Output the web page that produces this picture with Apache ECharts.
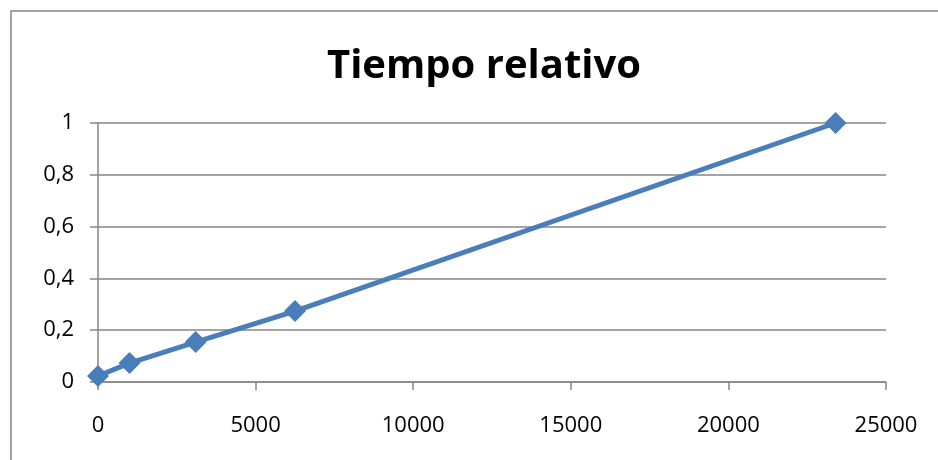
<!DOCTYPE html>
<html>
<head>
<meta charset="utf-8">
<script src="https://cdn.jsdelivr.net/npm/echarts@6/dist/echarts.min.js"></script>
<style>
  html, body { margin: 0; padding: 0; background: #fff; }
  #chart { width: 938px; height: 460px; }
</style>
</head>
<body>
<div id="chart"></div>
<script>
// values
const sizes = [0, 1000, 3100, 6250, 23400];
const relTime = [0.023, 0.073, 0.154, 0.274, 1.0];
const titleText = "Tiempo relativo";

const points = sizes.map((s, i) => [s, relTime[i]]);
const fontFam = "'Open Sans', 'Noto Sans', sans-serif";
const axisGrey = "#868686";

const myChart = echarts.init(document.getElementById("chart"));
const option = {
  animation: false,
  backgroundColor: "#fff",
  textStyle: { fontFamily: fontFam },
  title: {
    text: titleText,
    left: 479,
    top: 42,
    textAlign: "center",
    textStyle: { fontSize: 40, fontWeight: "bold", color: "#000", fontFamily: fontFam }
  },
  graphic: [{
    type: "rect",
    shape: { x: 11, y: 11, width: 940, height: 460 },
    style: { fill: "none", stroke: axisGrey, lineWidth: 1.5 },
    silent: true
  }],
  grid: { left: 98, right: 52, top: 123, bottom: 78 },
  xAxis: {
    type: "value",
    min: 0,
    max: 25000,
    interval: 5000,
    axisLine: { show: true, lineStyle: { color: axisGrey, width: 1.5 } },
    axisTick: { show: true, length: 8, lineStyle: { color: axisGrey, width: 1.5 } },
    splitLine: { show: false },
    axisLabel: {
      color: "#000",
      fontSize: 22,
      margin: 33,
      fontFamily: fontFam,
      formatter: v => String(v)
    }
  },
  yAxis: {
    type: "value",
    min: 0,
    max: 1,
    interval: 0.2,
    axisLine: { show: true, lineStyle: { color: axisGrey, width: 1.5 } },
    axisTick: { show: true, length: 8, lineStyle: { color: axisGrey, width: 1.5 } },
    splitLine: { show: true, lineStyle: { color: axisGrey, width: 1.5 } },
    axisLabel: {
      color: "#000",
      fontSize: 22,
      margin: 24,
      fontFamily: fontFam,
      formatter: v => String(Math.round(v * 10) / 10).replace(".", ",")
    }
  },
  series: [{
    type: "line",
    data: points,
    symbol: "diamond",
    symbolSize: 22,
    lineStyle: { color: "#4a7ebb", width: 5 },
    itemStyle: { color: "#4a7ebb" }
  }]
};
myChart.setOption(option);
</script>
</body>
</html>
